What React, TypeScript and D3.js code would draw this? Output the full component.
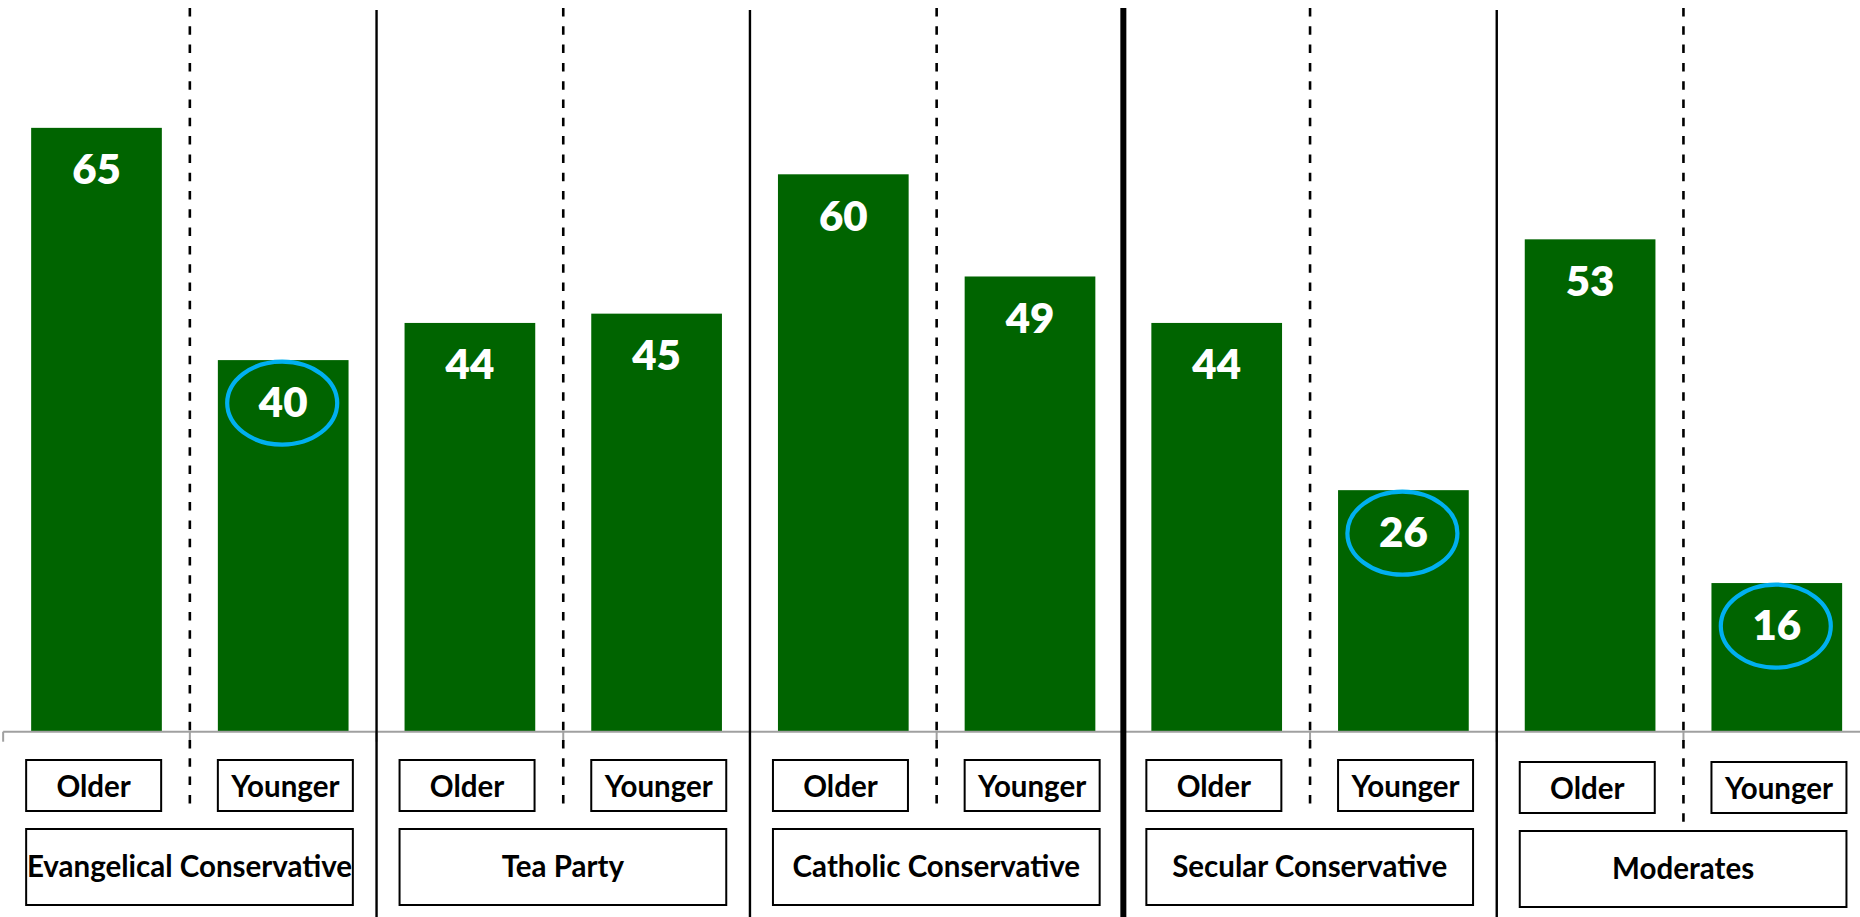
import React from "react";
import * as d3 from "d3";

const groups = ["Evangelical Conservative", "Tea Party", "Catholic Conservative", "Secular Conservative", "Moderates"];
const ages = ["Older", "Younger"];
const olderValues = [65, 44, 60, 44, 53];
const youngerValues = [40, 45, 49, 26, 16];
const youngerCircled = [true, false, false, true, true];

const W = 1860;
const H = 917;
const BASE = 731.7;
const BAR_COLOR = "#006400";
const RING_COLOR = "#00B0F0";
const FONT = "Lato, 'Open Sans', sans-serif";

type Bar = { key: string; group: number; age: number; value: number; circled: boolean };

const bars: Bar[] = [];
groups.forEach((g, gi) => {
  bars.push({ key: `${gi}-0`, group: gi, age: 0, value: olderValues[gi], circled: false });
  bars.push({ key: `${gi}-1`, group: gi, age: 1, value: youngerValues[gi], circled: youngerCircled[gi] });
});

export default function App() {
  const x = d3
    .scaleBand<string>()
    .domain(bars.map((b) => b.key))
    .range([3.15, 1870.15])
    .paddingInner(0.3)
    .paddingOuter(0.15);
  const y = d3.scaleLinear().domain([0, 70]).range([BASE, BASE - 70 * 9.29]);
  const step = x.step();
  const x0 = x.range()[0];
  const bw = x.bandwidth();

  const boundaries = d3.range(1, bars.length).map((k) => ({
    k,
    x: x0 + step * k,
    dashed: k % 2 === 1,
    thick: k === 6,
  }));
  const ticks = d3.range(0, bars.length + 1).map((k) => x0 + step * k);

  return (
    <svg
      width={W}
      height={H}
      style={{ position: "absolute", left: 0, top: 0, display: "block", background: "#fff" }}
      fontFamily={FONT}
    >
      <rect x={0} y={0} width={W} height={H} fill="#fff" />
      {/* bars */}
      {bars.map((b) => (
        <rect
          key={b.key}
          x={x(b.key)}
          y={y(b.value)}
          width={bw}
          height={BASE - y(b.value)}
          fill={BAR_COLOR}
        />
      ))}
      {/* axis */}
      <line x1={x0} x2={W} y1={BASE} y2={BASE} stroke="#a0a0a0" strokeWidth={2} />
      {ticks.map((t, i) => (
        <line key={i} x1={t} x2={t} y1={BASE} y2={BASE + 10} stroke="#a0a0a0" strokeWidth={2} />
      ))}
      {/* separators */}
      {boundaries.map((s) =>
        s.dashed ? (
          <line
            key={s.k}
            x1={s.x}
            x2={s.x}
            y1={8}
            y2={s.k === 9 ? 825 : 807}
            stroke="#000"
            strokeWidth={2.6}
            strokeDasharray="8.5 9.8"
          />
        ) : (
          <line
            key={s.k}
            x1={s.x}
            x2={s.x}
            y1={s.thick ? 8 : 10}
            y2={H}
            stroke="#000"
            strokeWidth={s.thick ? 6 : 2.4}
          />
        )
      )}
      {/* value labels */}
      {bars.map((b) => {
        const cx = (x(b.key) as number) + bw / 2;
        const top = y(b.value);
        return (
          <g key={"l" + b.key}>
            {b.circled && (
              <ellipse cx={cx - 1} cy={top + 43} rx={55} ry={41.5} fill="none" stroke={RING_COLOR} strokeWidth={4.2} />
            )}
            <text
              x={cx}
              y={top + 41 + 15.5}
              textAnchor="middle"
              fill="#fff"
              fontWeight={800}
              fontSize={42}
            >
              {b.value}
            </text>
          </g>
        );
      })}
      {/* label boxes */}
      {groups.map((g, gi) => {
        const dy = gi === 4 ? 2 : 0;
        const oLeft = (x(`${gi}-0`) as number) - 5;
        const yLeft = x(`${gi}-1`) as number;
        const bxW = 135;
        return (
          <g key={"g" + gi}>
            {ages.map((a, ai) => {
              const left = ai === 0 ? oLeft : yLeft;
              return (
                <g key={a}>
                  <rect x={left} y={760 + dy} width={bxW} height={51} fill="#fff" stroke="#000" strokeWidth={2} />
                  <text
                    x={left + bxW / 2}
                    y={796.7 + dy}
                    textAnchor="middle"
                    fontWeight={700}
                    fontSize={29.5}
                    fill="#000"
                  >
                    {a}
                  </text>
                </g>
              );
            })}
            <rect
              x={oLeft}
              y={829 + dy}
              width={yLeft + bxW - oLeft}
              height={76}
              fill="#fff"
              stroke="#000"
              strokeWidth={2}
            />
            <text
              x={(oLeft + yLeft + bxW) / 2}
              y={876.7 + dy}
              textAnchor="middle"
              fontWeight={700}
              fontSize={29.5}
              fill="#000"
            >
              {g}
            </text>
          </g>
        );
      })}
    </svg>
  );
}
